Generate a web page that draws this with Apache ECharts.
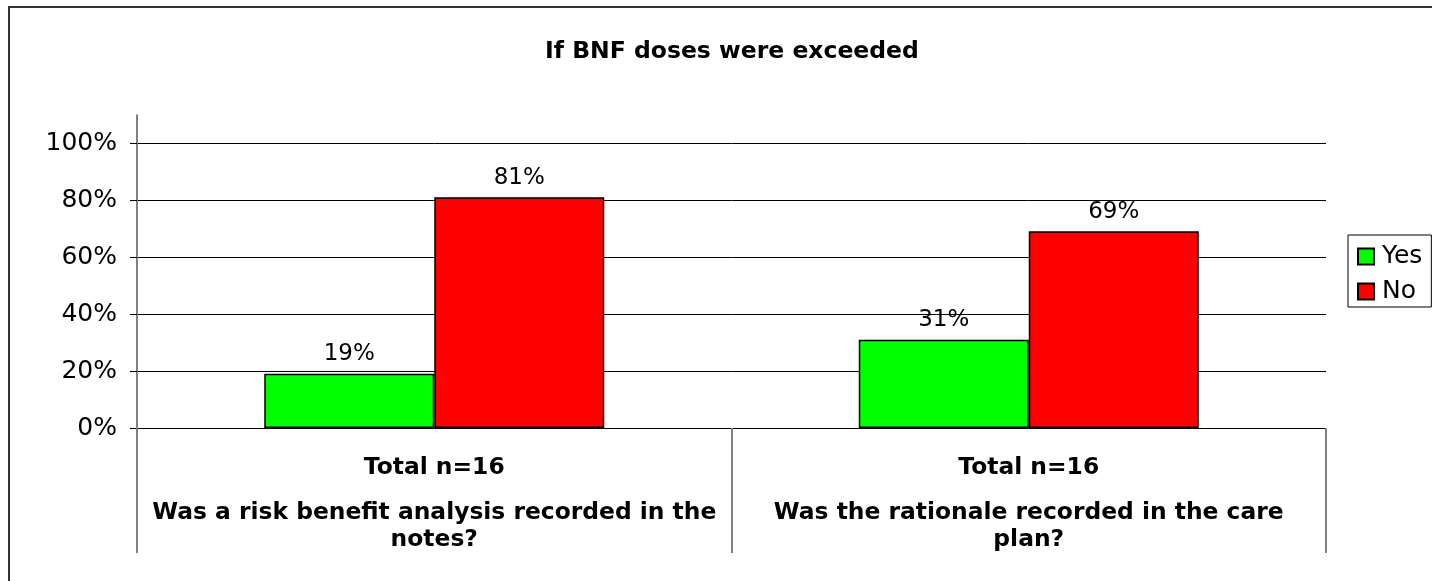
<!DOCTYPE html>
<html>
<head>
<meta charset="utf-8">
<title>If BNF doses were exceeded</title>
<script src="https://cdn.jsdelivr.net/npm/echarts@6/dist/echarts.min.js"></script>
<style>
  html, body { margin: 0; padding: 0; background: #fff; }
  #chart { width: 1432px; height: 581px; }
</style>
</head>
<body>
<div id="chart"></div>
<script>
// data
var questions = [
  'Was a risk benefit analysis recorded in the notes?',
  'Was the rationale recorded in the care plan?'
];
var totals = [16, 16];
var yesValues = [0.19, 0.31];
var noValues = [0.81, 0.69];

var FONT = 'DejaVu Sans';
var TITLE = 'If BNF doses were exceeded';

var myChart = echarts.init(document.getElementById('chart'));

function pct(v) {
  return Math.round(v * 100) + '%';
}

// word wrap by measured width, like the spreadsheet does under each category
var measureCtx = document.createElement('canvas').getContext('2d');
function wrapText(text, font, maxWidth) {
  measureCtx.font = font;
  var words = text.split(' ');
  var lines = [];
  var line = '';
  for (var i = 0; i < words.length; i++) {
    var test = line ? line + ' ' + words[i] : words[i];
    if (line && measureCtx.measureText(test).width > maxWidth) {
      lines.push(line);
      line = words[i];
    } else {
      line = test;
    }
  }
  if (line) lines.push(line);
  return lines;
}

// title sits centred over the plot area, not the whole page
var gridLeft = 137, gridRight = 106;
measureCtx.font = 'bold 23.5px ' + FONT;
var titleLeft = Math.round(gridLeft + (1432 - gridLeft - gridRight) / 2 - measureCtx.measureText(TITLE).width / 2);

var option = {
  animation: false,
  textStyle: { fontFamily: FONT, color: '#000' },
  title: {
    text: TITLE,
    left: titleLeft,
    top: 35,
    padding: [5, 0, 5, 0],
    textStyle: { fontFamily: FONT, fontSize: 23.5, fontWeight: 'bold', color: '#000' }
  },
  legend: {
    orient: 'vertical',
    left: 1348,
    top: 235,
    padding: [9, 9, 3, 9],
    borderColor: '#000',
    borderWidth: 1,
    itemWidth: 16,
    itemHeight: 16,
    itemGap: 10,
    icon: 'rect',
    textStyle: { fontFamily: FONT, fontSize: 25, lineHeight: 24, color: '#000', padding: [0, 0, 0, 3] },
    data: ['Yes', 'No']
  },
  grid: {
    left: gridLeft,
    right: gridRight,
    top: 143,
    bottom: 153
  },
  xAxis: {
    type: 'category',
    data: questions,
    axisLine: { lineStyle: { color: '#000', width: 1 } },
    axisTick: { show: true, length: 125, lineStyle: { color: '#808080', width: 2 } },
    axisLabel: {
      interval: 0,
      margin: 8,
      align: 'center',
      formatter: function (val, idx) {
        var lines = wrapText(val, 'bold 23.4px ' + FONT, 575);
        var out = '{t|Total n=' + totals[idx] + '}';
        for (var i = 0; i < lines.length; i++) {
          out += '\n{q|' + lines[i] + '}';
        }
        return out;
      },
      rich: {
        t: { fontFamily: FONT, fontSize: 23.4, fontWeight: 'bold', color: '#000', lineHeight: 63 },
        q: { fontFamily: FONT, fontSize: 23.4, fontWeight: 'bold', color: '#000', lineHeight: 27 }
      }
    }
  },
  yAxis: {
    type: 'value',
    min: 0,
    max: 1,
    interval: 0.2,
    axisLine: { show: true, lineStyle: { color: '#808080', width: 2 } },
    axisTick: { show: true, length: 7, lineStyle: { color: '#000', width: 1 } },
    axisLabel: {
      margin: 20,
      fontFamily: FONT,
      fontSize: 25,
      color: '#000',
      padding: [12, 0, 0, 0],
      formatter: function (v) { return Math.round(v * 100) + '%'; }
    },
    splitLine: { show: true, lineStyle: { color: '#000', width: 1 } }
  },
  series: [
    {
      name: 'Yes',
      type: 'bar',
      data: yesValues,
      barWidth: 170,
      barGap: '0%',
      itemStyle: { color: '#00ff00', borderColor: '#000', borderWidth: 1.5 },
      label: {
        show: true,
        position: 'top',
        distance: 8,
        fontFamily: FONT,
        fontSize: 23,
        color: '#000',
        formatter: function (p) { return pct(p.value); }
      }
    },
    {
      name: 'No',
      type: 'bar',
      data: noValues,
      barWidth: 170,
      itemStyle: { color: '#ff0000', borderColor: '#000', borderWidth: 1.5 },
      label: {
        show: true,
        position: 'top',
        distance: 8,
        fontFamily: FONT,
        fontSize: 23,
        color: '#000',
        formatter: function (p) { return pct(p.value); }
      }
    }
  ]
};

myChart.setOption(option);

// outer frame and the bit of value axis that runs above 100%
var top100 = myChart.convertToPixel({ yAxisIndex: 0 }, 1);
var zeroY = myChart.convertToPixel({ yAxisIndex: 0 }, 0);
var tenPct = (zeroY - top100) / 10;
myChart.setOption({
  graphic: [
    {
      type: 'rect',
      shape: { x: 9, y: 7, width: 1450, height: 600 },
      style: { fill: null, stroke: '#333', lineWidth: 2 },
      silent: true
    },
    {
      type: 'line',
      shape: { x1: gridLeft, y1: top100 - tenPct, x2: gridLeft, y2: top100 },
      style: { stroke: '#808080', lineWidth: 2 },
      silent: true
    }
  ]
});
</script>
</body>
</html>
